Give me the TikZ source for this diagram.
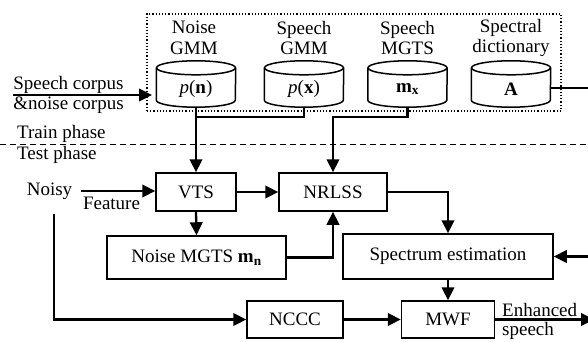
\documentclass[tikz,border=0pt]{standalone}
\usepackage{fontspec}
\setmainfont{Liberation Serif}
\usetikzlibrary{arrows.meta,calc}
\newcommand\fs{\fontsize{19}{20.7}\selectfont}
\tikzset{
 box/.style={draw, line width=1.5pt, minimum height=38pt, inner sep=0pt, font=\fs},
 conn/.style={line width=2.3pt},
 arr/.style={conn, -{Triangle[length=13pt,width=12.5pt]}},
 cylnode/.style={minimum width=79pt, minimum height=46pt, inner sep=0pt},
 lbl/.style={font=\fs, inner sep=0pt, align=center},
 lbll/.style={font=\fs, inner sep=0pt, align=left},
}
\newcommand\drawcyl[1]{%
 \draw[line width=1.5pt] ($(#1.north)+(0,7)$) ellipse [x radius=39.5pt, y radius=7pt];
 \draw[line width=1.5pt] ($(#1.north west)+(0,7)$) -- ($(#1.south west)+(0,-7)$)
   arc[start angle=180, end angle=360, x radius=39.5pt, y radius=7pt]
   -- ($(#1.north east)+(0,7)$);}
\begin{document}
\begin{tikzpicture}[x=1pt,y=-1pt]
\useasboundingbox (0,0) rectangle (588,342);
\clip (0,0) rectangle (588,342);
% training box
\node[draw, dotted, line width=1.2pt, minimum width=414pt, minimum height=97pt, inner sep=0pt] (tb) at (354,62.5) {};
% cylinders
\node[cylnode] (pn) at (196,84) {};
\node[cylnode] (px) at (304,84) {};
\node[cylnode] (mx) at (407.5,84) {};
\node[cylnode] (A) at (511,84) {};
\drawcyl{pn}\drawcyl{px}\drawcyl{mx}\drawcyl{A}
\node[lbl] (pnt) at (196,89) {\textit{p}(\textbf{n})};
\node[lbl] (pxt) at (304,89) {\textit{p}(\textbf{x})};
\node[lbl] (mxt) at (407.5,89) {\textbf{m}\textsubscript{\textbf{x}}};
\node[lbl] (At) at (511,89) {\textbf{A}};
% cylinder labels
\node[lbl] (l1) at (194,38) {Noise\\GMM};
\node[lbl] (l2) at (304,38) {Speech\\GMM};
\node[lbl] (l3) at (407.5,38) {Speech\\MGTS};
\node[lbl] (l4) at (511,38) {Spectral\\dictionary};
% corpus
\node[lbll] (corp) at (68.5,95) {Speech corpus\\\&noise corpus};
\coordinate (cs) at (13,95);
\coordinate (ce) at (152,95);
\draw[arr] (cs) -- (ce);
% phases
\coordinate (d1) at (0,144.5);
\coordinate (d2) at (588,144.5);
\draw[line width=1.2pt, dash pattern=on 6pt off 4pt] (d1) -- (d2);
\node[lbll, anchor=base west] (train) at (17,138) {Train phase};
\node[lbll, anchor=base west] (test) at (17,159) {Test phase};
% test boxes
\node[box, minimum width=80pt] (vts) at (196,192) {VTS};
\node[box, minimum width=108pt] (nrlss) at (333,192) {NRLSS};
\node[box, minimum width=179pt, minimum height=43pt] (nm) at (196.5,257.5) {Noise MGTS \textbf{m}\textsubscript{\textbf{n}}};
\node[box, minimum width=210pt, minimum height=45pt] (spec) at (448,256.5) {Spectrum estimation};
\node[box, minimum width=96pt, minimum height=37pt] (nccc) at (295,319.5) {NCCC};
\node[box, minimum width=93pt, minimum height=37pt] (mwf) at (448,319.5) {MWF};
% noisy
\node[lbll, anchor=base] (noisy) at (49.5,195) {Noisy};
\node[lbll, anchor=base] (feat) at (111.5,209) {Feature};
\coordinate (nf) at (81,191);
\coordinate (nz) at (54,214);
\draw[arr] (nf) -- (nf -| vts.west);
\draw[arr] (nz) |- (nccc.west);
% training connections
\draw[arr] (pn.south) -- (vts.north);
\draw[conn] (px.south) |- ($(pn.south)+(0,10)$);
\draw[arr] (mx.south) -- ++(0,10) -| (nrlss.north);
\coordinate (re1) at (590,88);
\draw[conn] ([yshift=-4pt]A.east) -- (re1);
% test connections
\draw[arr] (vts.east) -- (nrlss.west);
\draw[arr] (vts.south) -- (nm.north);
\draw[arr] (nm.east) -| (nrlss.south);
\draw[arr] (nrlss.east) -| (spec.north);
\coordinate (re2) at (590,256.5);
\draw[arr] (re2) -- (spec.east);
\draw[arr] (spec.south) -- (mwf.north);
\draw[arr] (nccc.east) -- (mwf.west);
\coordinate (out) at (594,319.5);
\draw[arr] (mwf.east) -- (out);
\node[lbll, anchor=base west] (enh) at (502,316) {Enhanced};
\node[lbll, anchor=base west] (sp) at (502,335) {speech};
\end{tikzpicture}
\end{document}
